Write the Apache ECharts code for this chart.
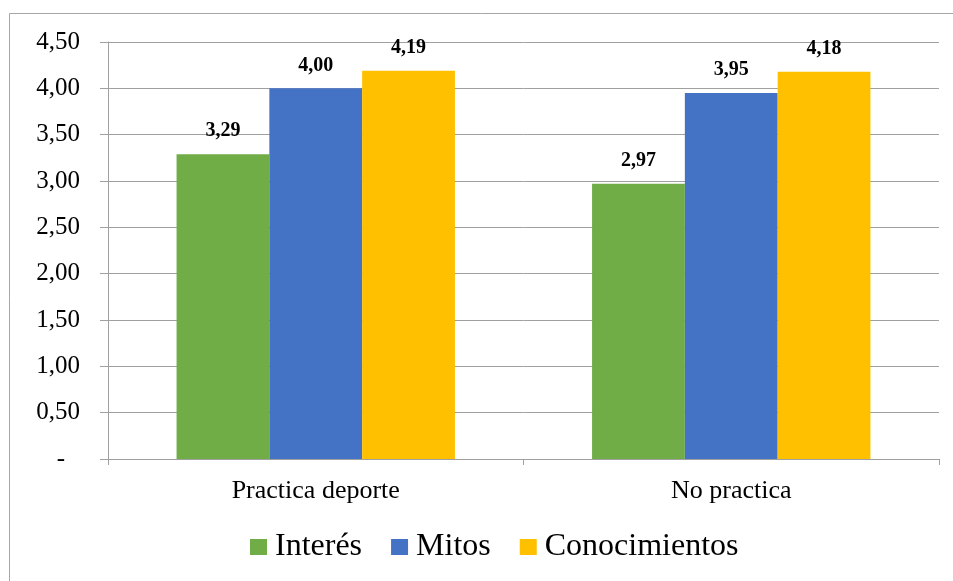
<!DOCTYPE html>
<html>
<head>
<meta charset="utf-8">
<script src="https://cdn.jsdelivr.net/npm/echarts@6/dist/echarts.min.js"></script>
<style>
  html, body { margin: 0; padding: 0; background: #fff; }
  #chart { width: 953px; height: 581px; }
</style>
</head>
<body>
<div id="chart"></div>
<script>
// Mean scores by sport practice group
const categories = ['Practica deporte', 'No practica'];
const seriesNames = ['Interés', 'Mitos', 'Conocimientos'];
const interes = [3.29, 2.97];
const mitos = [4.00, 3.95];
const conocimientos = [4.19, 4.18];
const yTicks = [0, 0.5, 1, 1.5, 2, 2.5, 3, 3.5, 4, 4.5];

const colors = ['#70AD47', '#4472C4', '#FFC000'];
const font = '"Liberation Serif", "Times New Roman", serif';

function comma(v) {
  return v.toFixed(2).replace('.', ',');
}

const chart = echarts.init(document.getElementById('chart'), null, { renderer: 'canvas' });

const values = [interes, mitos, conocimientos];

chart.setOption({
  animation: false,
  backgroundColor: '#fff',
  color: colors,
  graphic: [{
    type: 'rect',
    shape: { x: 9.5, y: 13.5, width: 1000, height: 1000 },
    style: { fill: 'none', stroke: '#a6a6a6', lineWidth: 1 },
    silent: true
  }],
  grid: { left: 108, right: 14, top: 42, bottom: 122, containLabel: false },
  legend: {
    left: 250,
    top: 531,
    padding: 0,
    itemWidth: 17,
    itemHeight: 16,
    itemGap: 29,
    icon: 'rect',
    textStyle: { fontFamily: font, fontSize: 32, color: '#000', padding: [0, 0, 0, 3] },
    data: seriesNames
  },
  xAxis: {
    type: 'category',
    data: categories,
    axisLine: { lineStyle: { color: '#a0a0a0', width: 1 } },
    axisTick: { show: true, length: 6, lineStyle: { color: '#a0a0a0' } },
    axisLabel: { fontFamily: font, fontSize: 26, color: '#000', margin: 19 },
    splitLine: { show: false }
  },
  yAxis: {
    type: 'value',
    min: yTicks[0],
    max: yTicks[yTicks.length - 1],
    interval: 0.5,
    axisLine: { show: true, lineStyle: { color: '#a0a0a0', width: 1 } },
    axisTick: { show: true, length: 8, lineStyle: { color: '#a0a0a0' } },
    axisLabel: {
      fontFamily: font, fontSize: 25, color: '#000', margin: 28,
      formatter: function (v) { return v === 0 ? '{d|-}' : comma(v); },
      rich: { d: { fontFamily: font, fontSize: 25, color: '#000', padding: [0, 15, 0, 0] } }
    },
    splitLine: { show: true, lineStyle: { color: '#a0a0a0', width: 1 } }
  },
  series: seriesNames.map(function (name, i) {
    return {
      name: name,
      type: 'bar',
      data: values[i],
      barGap: '0%',
      barCategoryGap: '33%',
      label: {
        show: true,
        position: 'top',
        distance: 13,
        fontFamily: font,
        fontSize: 20,
        fontWeight: 'bold',
        color: '#000',
        formatter: function (p) { return comma(p.value); }
      }
    };
  })
});
</script>
</body>
</html>
